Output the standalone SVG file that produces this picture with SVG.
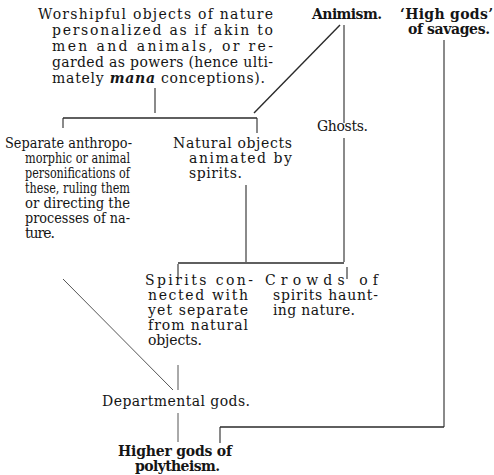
<svg xmlns="http://www.w3.org/2000/svg" width="494" height="475" viewBox="0 0 494 475">
<style>
text{font-family:"DejaVu Serif","Liberation Serif",serif;font-size:14px;fill:#151515}
.b{font-weight:bold}
.c line{stroke:#2a2a2a;stroke-width:1.1}
.c .l{stroke:#555;stroke-width:1}
</style>
<rect width="494" height="475" fill="#fff"/>
<g class="c" id="connectors">
<line x1="155" y1="88" x2="155" y2="113"/>
<line x1="63" y1="118" x2="257" y2="118" style="stroke-width:1.5"/>
<line x1="63" y1="118" x2="63" y2="128"/>
<line x1="257" y1="118" x2="257" y2="133"/>
<line x1="340" y1="25" x2="254" y2="113" style="stroke-width:1.4"/>
<line x1="344" y1="25" x2="344" y2="123"/>
<line x1="344" y1="138" x2="344" y2="262"/>
<line x1="246" y1="185" x2="246" y2="262"/>
<line x1="178" y1="263" x2="344" y2="263" style="stroke-width:1.3"/>
<line x1="178" y1="264" x2="178" y2="279"/>
<line x1="347" y1="267" x2="347" y2="279"/>
<line class="l" x1="63" y1="279" x2="173" y2="390"/>
<line class="l" x1="178" y1="365" x2="178" y2="390"/>
<line class="l" x1="178" y1="413" x2="178" y2="442"/>
<line x1="444" y1="40" x2="444" y2="427"/>
<line x1="220" y1="427" x2="444" y2="427" style="stroke-width:1.5"/>
<line x1="220" y1="427" x2="220" y2="443"/>
</g>
<g id="worshipful">
<text x="38" y="19" textLength="235" lengthAdjust="spacing">Worshipful objects of nature</text>
<text x="52" y="35" textLength="221" lengthAdjust="spacing">personalized as if akin to</text>
<text x="52" y="51" textLength="221" lengthAdjust="spacing">men and animals, or re-</text>
<text x="52" y="67" textLength="221" lengthAdjust="spacing">garded as powers (hence ulti-</text>
<text x="52" y="83" textLength="213" lengthAdjust="spacing">mately <tspan font-style="italic" font-weight="bold">mana</tspan> conceptions).</text>
</g>
<g id="animism">
<text class="b" x="312" y="19" textLength="70" lengthAdjust="spacing">Animism.</text>
</g>
<g id="high-gods">
<text class="b" x="400" y="19" textLength="93" lengthAdjust="spacing">‘High gods’</text>
<text class="b" x="408" y="34" textLength="82" lengthAdjust="spacing">of savages.</text>
</g>
<g id="separate">
<text x="5" y="148" textLength="127" lengthAdjust="spacingAndGlyphs">Separate anthropo-</text>
<text x="25" y="163" textLength="105" lengthAdjust="spacingAndGlyphs">morphic or animal</text>
<text x="25" y="178" textLength="105" lengthAdjust="spacingAndGlyphs">personifications of</text>
<text x="25" y="193" textLength="105" lengthAdjust="spacingAndGlyphs">these, ruling them</text>
<text x="25" y="208" textLength="105" lengthAdjust="spacingAndGlyphs">or directing the</text>
<text x="25" y="223" textLength="105" lengthAdjust="spacingAndGlyphs">processes of na-</text>
<text x="25" y="238" textLength="30" lengthAdjust="spacing">ture.</text>
</g>
<g id="natural-objects">
<text x="173" y="148" textLength="119" lengthAdjust="spacing">Natural objects</text>
<text x="189" y="163" textLength="103" lengthAdjust="spacing">animated by</text>
<text x="189" y="178" textLength="53" lengthAdjust="spacing">spirits.</text>
</g>
<g id="ghosts">
<text x="317" y="131" textLength="51" lengthAdjust="spacing">Ghosts.</text>
</g>
<g id="spirits-connected">
<text x="145" y="285" textLength="108" lengthAdjust="spacing">Spirits con-</text>
<text x="148" y="300" textLength="100" lengthAdjust="spacing">nected with</text>
<text x="148" y="315" textLength="100" lengthAdjust="spacing">yet separate</text>
<text x="148" y="330" textLength="100" lengthAdjust="spacing">from natural</text>
<text x="148" y="345" textLength="54" lengthAdjust="spacing">objects.</text>
</g>
<g id="crowds">
<text x="265" y="285" textLength="113" lengthAdjust="spacing">Crowds of</text>
<text x="273" y="300" textLength="105" lengthAdjust="spacing">spirits haunt-</text>
<text x="273" y="315" textLength="82" lengthAdjust="spacing">ing nature.</text>
</g>
<g id="departmental">
<text x="102" y="406" textLength="148" lengthAdjust="spacing">Departmental gods.</text>
</g>
<g id="higher-gods">
<text class="b" x="118" y="456" textLength="114" lengthAdjust="spacing">Higher gods of</text>
<text class="b" x="135" y="471" textLength="85" lengthAdjust="spacing">polytheism.</text>
</g>
</svg>
